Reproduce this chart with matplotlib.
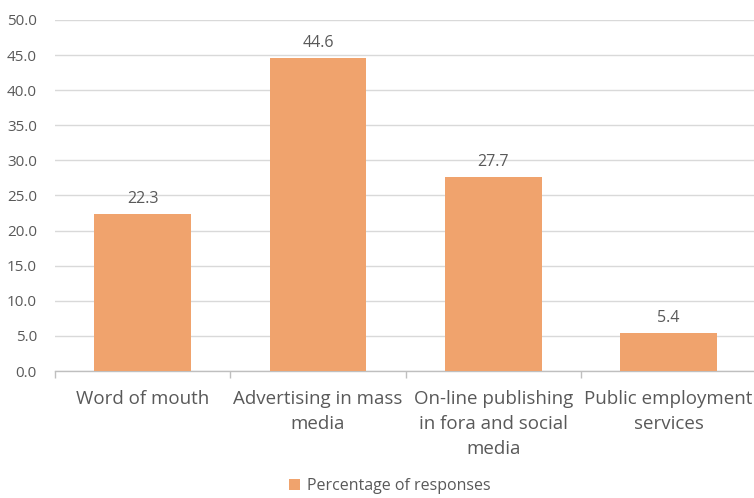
import matplotlib
matplotlib.use('Agg')
import matplotlib.pyplot as plt
import numpy as np

categories = ['Word of mouth', 'Advertising in mass\nmedia',
              'On-line publishing\nin fora and social\nmedia', 'Public employment\nservices']
values = [22.3, 44.6, 27.7, 5.4]
series_name = 'Percentage of responses'
y_ticks = [0, 5, 10, 15, 20, 25, 30, 35, 40, 45, 50]

plt.rcParams['font.family'] = ['Open Sans', 'DejaVu Sans']
text_color = '#595959'
bar_color = '#F0A36D'

fig = plt.figure(figsize=(7.54, 4.98), dpi=100)
ax = fig.add_axes([0.073, 0.255, 0.93, 0.705])

x = np.arange(len(categories))
bars = ax.bar(x, values, width=0.55, color=bar_color, label=series_name, zorder=3)

# value labels above the bars
for b, v in zip(bars, values):
    ax.annotate(f'{v:.1f}', (b.get_x() + b.get_width() / 2, v),
                xytext=(0, 5), textcoords='offset points',
                ha='center', va='bottom', fontsize=11.5, color=text_color)

ax.set_xlim(-0.5, 3.5)
ax.set_ylim(0, 50)
ax.set_yticks(y_ticks)
ax.set_yticklabels([f'{t:.1f}' for t in y_ticks])
ax.yaxis.grid(True, color='#D9D9D9', linewidth=1, zorder=0)
ax.tick_params(axis='y', length=0, pad=13, labelsize=11, labelcolor=text_color)

ax.set_xticks(x)
ax.set_xticklabels(categories, fontsize=13.5, color=text_color, linespacing=1.5)
ax.tick_params(axis='x', which='major', length=0, pad=14)
# tick marks between categories
ax.set_xticks(np.arange(-0.5, 4.0, 1.0), minor=True)
ax.tick_params(axis='x', which='minor', length=5, width=1, color='#BFBFBF', direction='out')

for s in ['top', 'right', 'left']:
    ax.spines[s].set_visible(False)
ax.spines['bottom'].set_color('#BFBFBF')
ax.spines['bottom'].set_linewidth(1)

fig.legend(loc='center', bbox_to_anchor=(0.517, 0.024), frameon=False,
           fontsize=11.5, labelcolor=text_color, handlelength=0.7, handleheight=0.7,
           handletextpad=0.4)

fig.savefig('out.png', dpi=100)
